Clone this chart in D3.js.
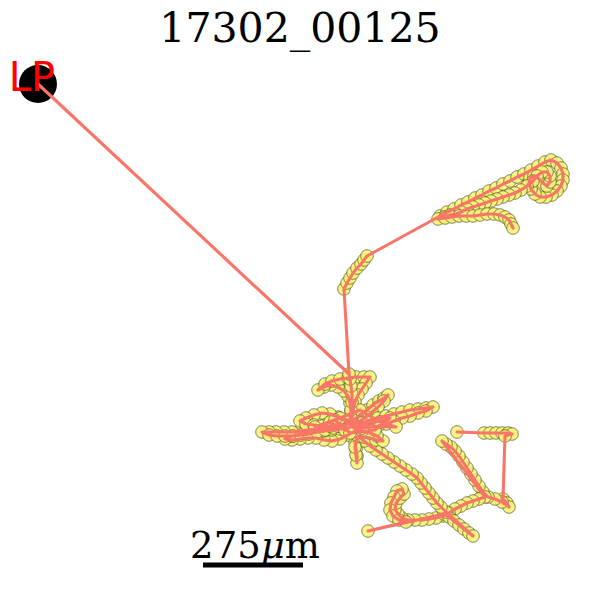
<!DOCTYPE html>
<html>
<head>
<meta charset="utf-8">
<script src="https://cdn.jsdelivr.net/npm/d3@7"></script>
<style>
  html, body { margin: 0; padding: 0; background: #fff; }
</style>
</head>
<body>
<div id="track-chart"></div>
<script>
const width = 600;
const height = 600;

const title = "17302_00125";
const umPerPx = 2.75;      // camera calibration
const scaleBarUm = 275;

// launch point and the track sample it is linked to (camera px)
const lp = [38, 84];
const lpTarget = [349, 374];

// tracked positions, in time order (camera px)
const track = [
  [457,432],[484,433],[490,433],[496,433],[502,433],[508,433],[512,434],[505,436],
  [503,499],[507,503],[509,507],[502,502],[495,499],[488,497],
  [483,492],[479,486],[475,480],[471,474],[467,468],[463,462],[459,456],[455,451],[451,447],[446,444],[442,441],
  [485,497],
  [479,499],[473,501],[467,503],[461,506],[455,509],[449,513],[443,516],[436,518],[429,519],[422,520],[415,520],[408,520],
  [402,518],[398,514],[395,509],[396,503],[400,498],[404,494],[402,489],[397,491],[394,497],[391,503],[390,510],[393,516],[399,520],[406,522],
  [368,531],
  [444,514],[449,517],[454,521],[459,525],[464,529],[469,533],[473,536],
  [446,512],
  [441,507],[437,503],[433,498],[429,493],[425,488],[421,483],[417,478],[412,474],[406,470],[400,466],[394,462],[388,458],[382,454],[376,450],[370,446],[364,441],[358,436],
  [355,442],[356,449],[357,456],[357,463],[356,455],[355,447],
  [358,436],[364,437],[370,438],[376,440],[383,441],[377,436],[370,433],[362,431],[355,431],
  [348,435],[340,439],[332,441],[324,440],[316,438],[308,438],[300,439],[292,440],[285,439],[292,436],[300,434],[308,433],[316,432],[324,431],[332,430],[340,429],[348,428],
  [340,426],[332,427],[324,428],[316,429],[308,430],[300,431],[292,432],[284,432],[276,432],[269,432],[262,432],
  [269,435],[277,436],[285,436],[293,436],[301,435],[309,434],[317,432],[325,430],[333,428],[341,426],[349,424],
  [355,419],[361,414],[367,410],[373,405],[379,401],[384,398],[388,395],[384,401],[378,407],[372,412],[366,417],[360,421],[354,425],
  [362,423],[370,420],[378,418],[386,416],[394,414],[402,412],[410,410],[418,409],[426,408],[433,407],
  [426,411],[418,413],[410,416],[402,418],[394,421],[386,424],[378,426],[370,427],[362,428],[354,428],
  [346,421],[338,417],[330,414],[322,413],[314,415],[306,418],[300,421],[306,424],[314,425],[322,426],[330,426],[338,426],[346,426],
  [350,419],[351,411],[350,403],[348,396],[344,391],[338,387],[331,385],[324,387],[318,390],
  [325,384],[332,381],[340,379],[348,378],[356,377],[364,377],[370,377],
  [366,383],[362,389],[358,395],[355,402],[353,410],[352,418],[352,426],
  [345,430],[330,422],[315,427],[340,418],[365,425],[390,418],[375,430],[350,433],[335,420],[360,410],[380,422],[396,427],[352,426],
  [351,418],[351,410],[352,402],[352,394],[351,386],[350,379],[349,374],
  [344,289],[347,283],[350,278],[353,273],[357,268],[361,264],[364,260],[367,256],
  [440,216],[447,212],[454,209],[461,205],[468,202],[475,198],[482,195],[489,191],[496,188],[503,184],[510,181],[517,177],[524,174],[531,170],[538,166],[545,162],
  [551,160],[557,163],[561,168],[563,174],[563,180],[561,186],[557,191],[552,195],[546,197],[540,197],[535,194],[531,189],[529,183],[530,178],
  [534,176],[539,179],[543,183],[547,186],[550,182],[550,176],[547,172],[542,172],[537,176],[533,181],
  [527,186],[521,190],[515,193],[509,195],[503,197],[497,199],[491,201],[485,203],[479,205],[473,207],[467,209],[461,212],[456,214],[450,215],[444,217],[438,219],
  [445,218],[452,217],[459,216],[466,216],[473,216],[480,215],[487,214],[494,214],[500,215],[505,217],[509,220],[511,224],[513,228]
];

const svg = d3.select("#track-chart").append("svg")
    .attr("width", width)
    .attr("height", height);

// axes are hidden, the frame is 600 camera px each way
const xScale = d3.scaleLinear().domain([0, 600]).range([0, width]);
const yScale = d3.scaleLinear().domain([0, 600]).range([0, height]);

const line = d3.line()
    .x(d => xScale(d[0]))
    .y(d => yScale(d[1]));

// track samples
svg.append("g")
    .selectAll("circle")
    .data(track)
    .join("circle")
    .attr("cx", d => xScale(d[0]))
    .attr("cy", d => yScale(d[1]))
    .attr("r", 6.3)
    .attr("fill", "#f7f37a")
    .attr("fill-opacity", 0.9)
    .attr("stroke", "#3a3a10")
    .attr("stroke-opacity", 0.6)
    .attr("stroke-width", 1);

// launch point marker
svg.append("circle")
    .attr("cx", xScale(lp[0]))
    .attr("cy", yScale(lp[1]))
    .attr("r", 19)
    .attr("fill", "#000");

svg.append("path")
    .attr("d", line([lp, lpTarget]))
    .attr("fill", "none")
    .attr("stroke", "#f97568")
    .attr("stroke-width", 3.1);

svg.append("path")
    .attr("d", line(track))
    .attr("fill", "none")
    .attr("stroke", "#f97568")
    .attr("stroke-width", 3.1)
    .attr("stroke-linejoin", "round")
    .attr("stroke-linecap", "round");

svg.append("text")
    .attr("x", xScale(lp[0]) - 6)
    .attr("y", yScale(lp[1]) + 7)
    .attr("text-anchor", "middle")
    .attr("font-family", "DejaVu Sans")
    .attr("font-size", 40)
    .attr("fill", "red")
    .text("LP");

svg.append("text")
    .attr("x", width / 2)
    .attr("y", 42)
    .attr("text-anchor", "middle")
    .attr("font-family", "DejaVu Serif")
    .attr("font-size", 41)
    .attr("fill", "#000")
    .text(title);

// scale bar
const barX0 = 203;
const barLen = xScale(scaleBarUm / umPerPx) - xScale(0);
svg.append("line")
    .attr("x1", barX0)
    .attr("x2", barX0 + barLen)
    .attr("y1", 565)
    .attr("y2", 565)
    .attr("stroke", "#000")
    .attr("stroke-width", 5);

const label = svg.append("text")
    .attr("x", barX0 + barLen / 2 + 2)
    .attr("y", 558)
    .attr("text-anchor", "middle")
    .attr("font-family", "DejaVu Serif")
    .attr("font-size", 37)
    .attr("fill", "#000");
label.append("tspan").text(scaleBarUm);
label.append("tspan").attr("font-style", "italic").text("\u03bc");
label.append("tspan").text("m");
</script>
</body>
</html>
